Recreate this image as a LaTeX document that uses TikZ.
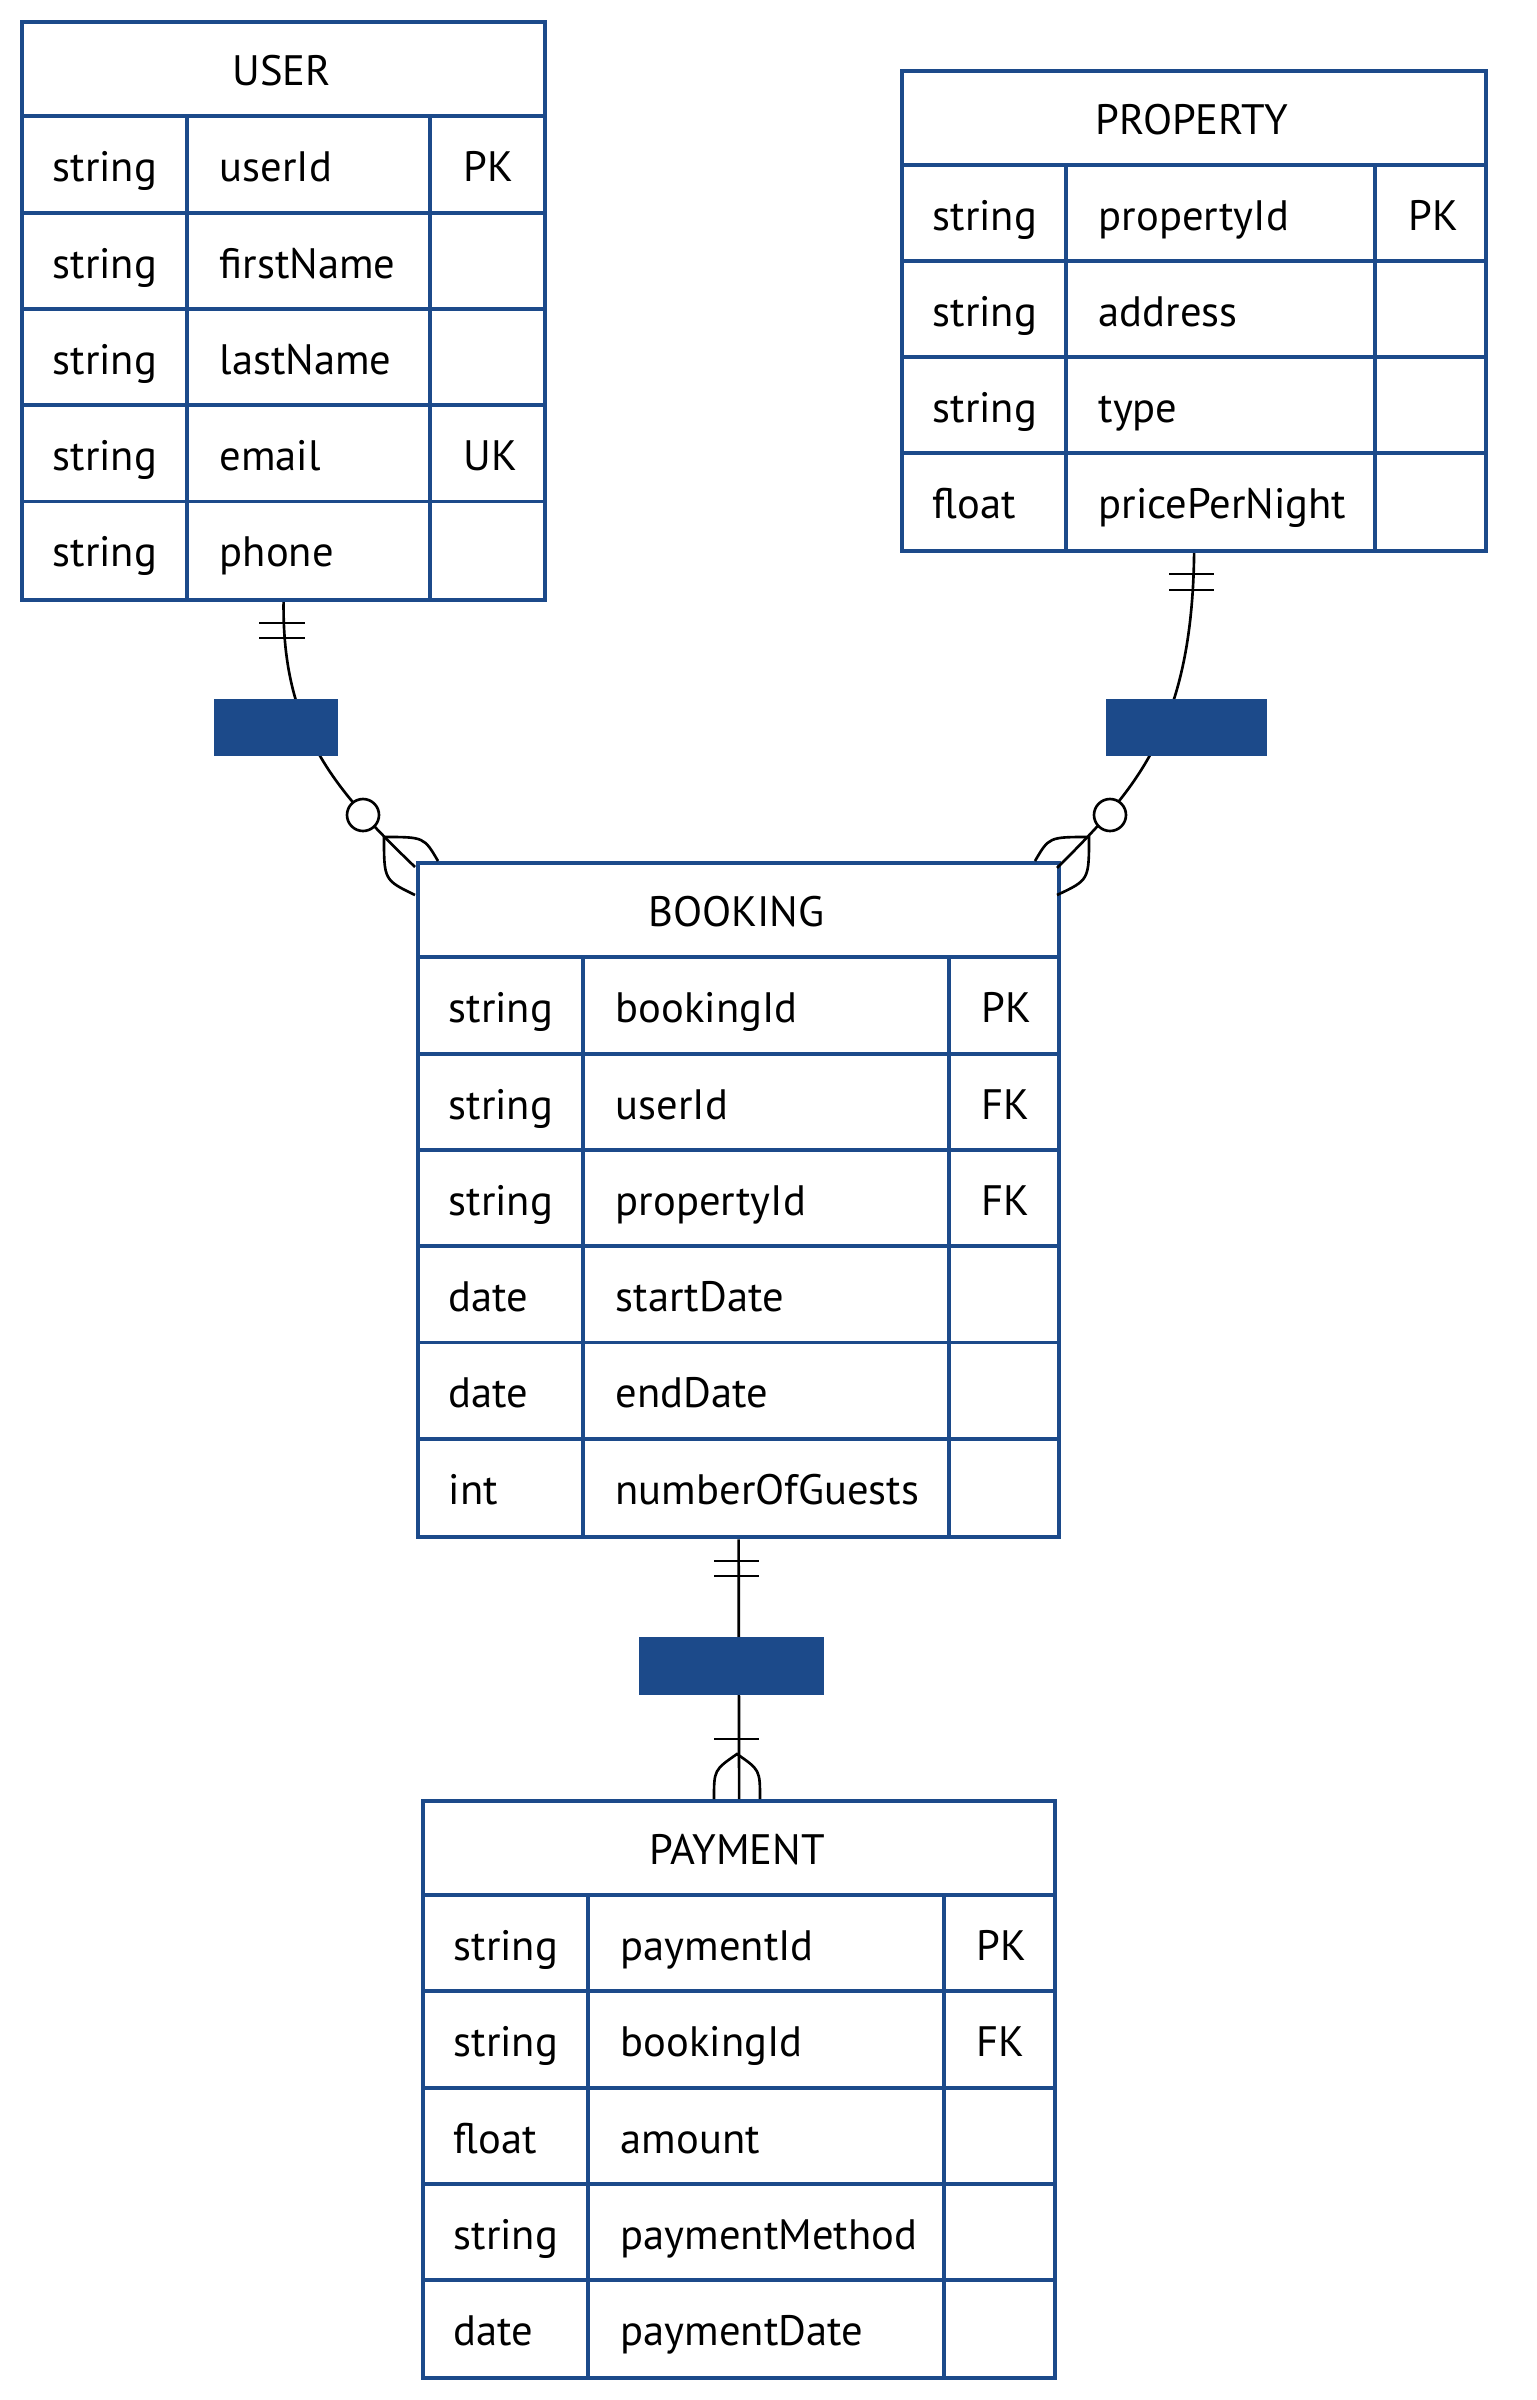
\documentclass[tikz,border=0pt]{standalone}
\usepackage{fontspec}
\setmainfont{PT Sans}
\usepackage{tikz}
\usetikzlibrary{positioning}

\definecolor{erblue}{HTML}{1C4A8A}

\begin{document}
\begin{tikzpicture}[x=0.01cm, y=-0.01cm,
                    tblbox/.style={draw=erblue, line width=1.1pt, inner sep=0, anchor=north west},
                    grid/.style={draw=erblue, line width=1.1pt},
                    title/.style={font=\fontsize{12.1}{14}\selectfont, inner sep=0, text height=1.6ex, text depth=.3ex, yshift=-.06cm},
                    attr/.style={title, anchor=west},
                    rel/.style={draw=black, line width=.75pt},
                    lbl/.style={fill=erblue, draw=none, inner sep=0, minimum width=#1},
                    lbl/.default=1.24cm]
    \useasboundingbox (0,0) rectangle (1536,2400);

    % USER
    \node[tblbox, minimum width=5.23cm, minimum height=5.78cm] (user) at (20,20) {};
    \foreach \i in {1,...,5} \draw[grid] (20,20+96.3*\i) -- (543,20+96.3*\i);
    \draw[grid] (187,116.3) -- (187,598) (430,116.3) -- (430,598);
    \node[title] (user-title) at (281.5,68) {USER};
    \foreach \t/\n/\k [count=\i] in {string/userId/PK, string/firstName/{}, string/lastName/{},
                                    string/email/UK, string/phone/{}} {
        \node[attr] (user-t\i) at (52,68+96.3*\i) {\t};
        \node[attr] (user-n\i) at (219,68+96.3*\i) {\n};
        \node[attr] (user-k\i) at (463,68+96.3*\i) {\k};
    }

    % PROPERTY
    \node[tblbox, minimum width=5.84cm, minimum height=4.80cm] (property) at (900,69) {};
    \foreach \i in {1,...,4} \draw[grid] (900,69+96*\i) -- (1484,69+96*\i);
    \draw[grid] (1066,165) -- (1066,549) (1375,165) -- (1375,549);
    \node[title] (property-title) at (1192,117) {PROPERTY};
    \foreach \t/\n/\k [count=\i] in {string/propertyId/PK, string/address/{}, string/type/{},
                                    float/pricePerNight/{}} {
        \node[attr] (property-t\i) at (932,117+96*\i) {\t};
        \node[attr] (property-n\i) at (1098,117+96*\i) {\n};
        \node[attr] (property-k\i) at (1408,117+96*\i) {\k};
    }

    % BOOKING
    \node[tblbox, minimum width=6.41cm, minimum height=6.74cm] (booking) at (416,861) {};
    \foreach \i in {1,...,6} \draw[grid] (416,861+96.3*\i) -- (1057,861+96.3*\i);
    \draw[grid] (583,957.3) -- (583,1535) (949,957.3) -- (949,1535);
    \node[title] (booking-title) at (736.5,909) {BOOKING};
    \foreach \t/\n/\k [count=\i] in {string/bookingId/PK, string/userId/FK, string/propertyId/FK,
                                    date/startDate/{}, date/endDate/{}, int/numberOfGuests/{}} {
        \node[attr] (booking-t\i) at (448,909+96.3*\i) {\t};
        \node[attr] (booking-n\i) at (615,909+96.3*\i) {\n};
        \node[attr] (booking-k\i) at (981,909+96.3*\i) {\k};
    }

    % PAYMENT
    \node[tblbox, minimum width=6.32cm, minimum height=5.77cm] (payment) at (421,1799) {};
    \foreach \i in {1,...,5} \draw[grid] (421,1799+96.2*\i) -- (1053,1799+96.2*\i);
    \draw[grid] (588,1895.2) -- (588,2376) (944,1895.2) -- (944,2376);
    \node[title] (payment-title) at (737,1847) {PAYMENT};
    \foreach \t/\n/\k [count=\i] in {string/paymentId/PK, string/bookingId/FK, float/amount/{},
                                    string/paymentMethod/{}, date/paymentDate/{}} {
        \node[attr] (payment-t\i) at (453,1847+96.2*\i) {\t};
        \node[attr] (payment-n\i) at (620,1847+96.2*\i) {\n};
        \node[attr] (payment-k\i) at (976,1847+96.2*\i) {\k};
    }

    % relations
    \coordinate (ub-end) at (415,867);
    \coordinate (pb-end) at (1057,868);
    \draw[rel] (user.south) .. controls (282,730) and (335,790) .. (ub-end);
    \draw[rel] (property.south) .. controls (1192,730) and (1135,790) .. (pb-end);
    \draw[rel] (booking.south) -- (payment.north);

    % one and only one
    \draw[rel] (259,623) -- (305,623) (259,638) -- (305,638);
    \draw[rel] (1169,574) -- (1214,574) (1169,590) -- (1214,590);
    \draw[rel] (714,1561) -- (759,1561) (714,1576) -- (759,1576);

    % zero or more
    \draw[rel, fill=white] (363,815) circle (16);
    \draw[rel] (438,861) .. controls (424,837) .. (384,837) .. controls (384,880) .. (415,895);
    \draw[rel, fill=white] (1110,815) circle (16);
    \draw[rel] (1035,861) .. controls (1049,837) .. (1089,837) .. controls (1089,880) .. (1057,895);

    % one or more
    \draw[rel] (714,1739) -- (759,1739);
    \draw[rel] (714,1799) .. controls (714,1770) .. (737,1754) .. controls (760,1770) .. (760,1799);

    % labels
    \node[lbl=1.24cm, minimum height=.57cm] (lbl-ub) at (276,727.5) {};
    \node[lbl=1.61cm, minimum height=.57cm] (lbl-pb) at (1186.5,727.5) {};
    \node[lbl=1.85cm, minimum height=.58cm] (lbl-bp) at (731.5,1665.5) {};
\end{tikzpicture}
\end{document}
